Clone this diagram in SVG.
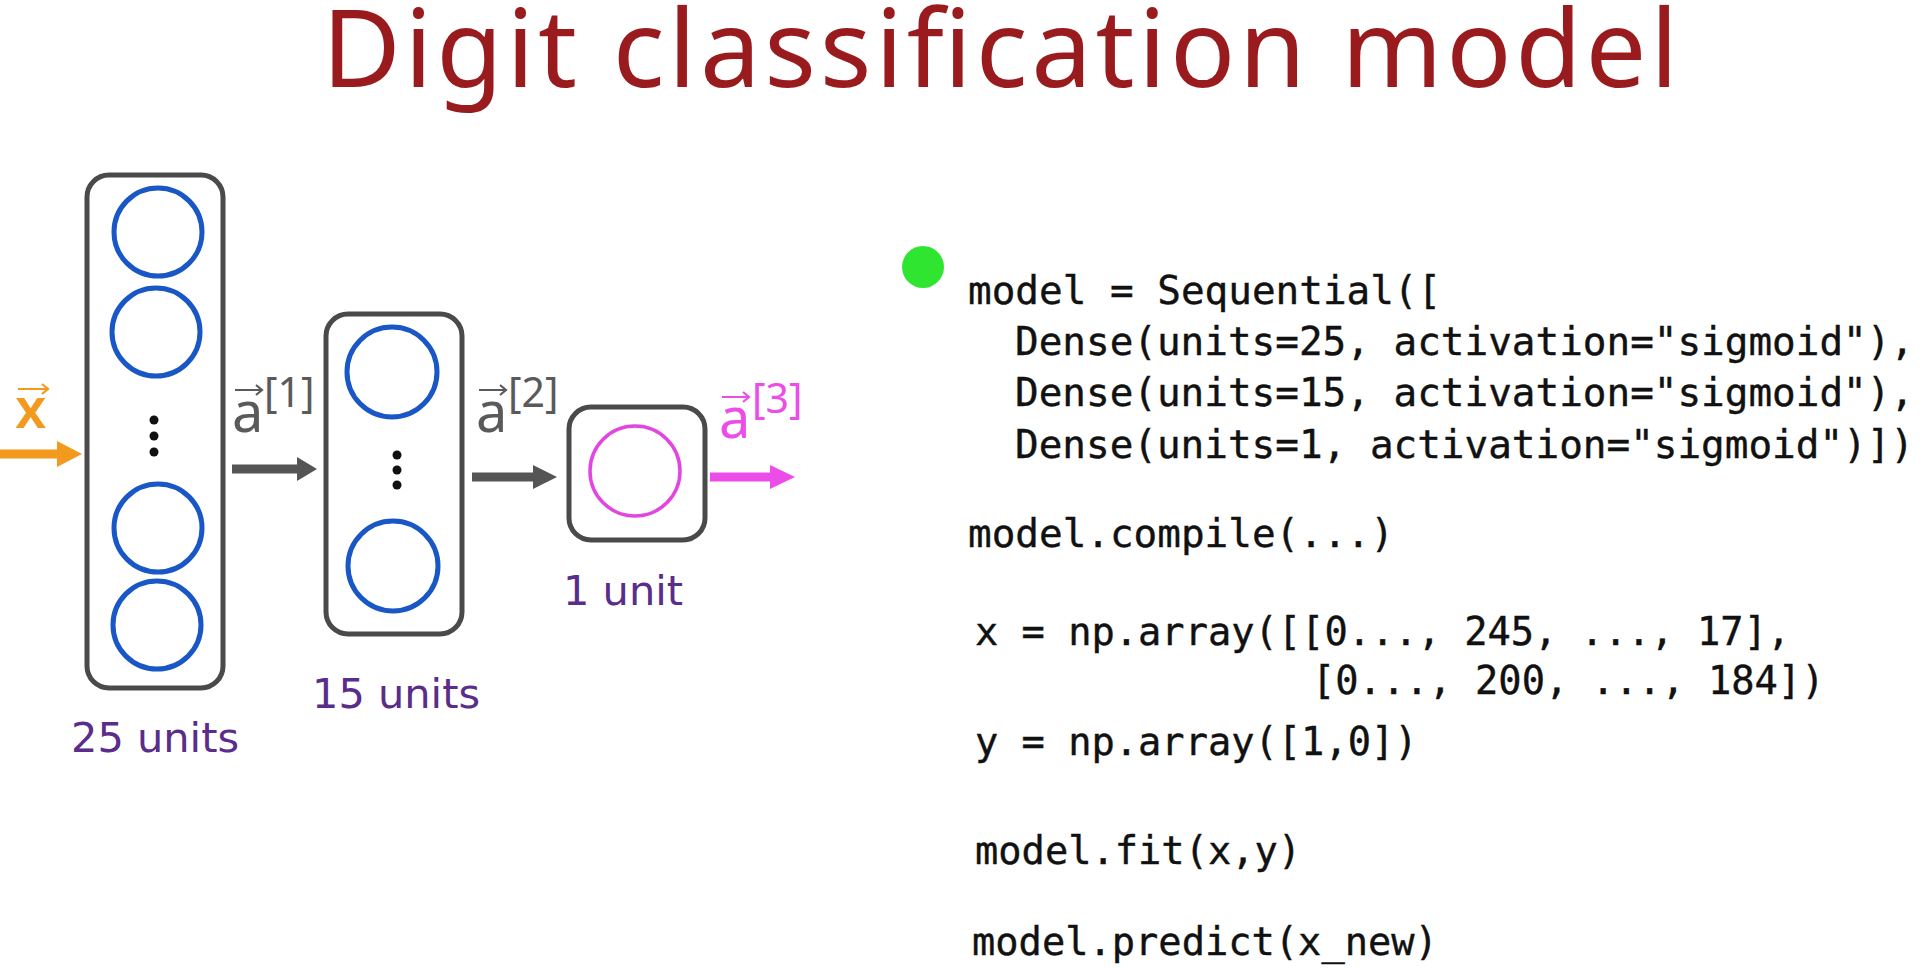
<svg xmlns="http://www.w3.org/2000/svg" width="1920" height="969" viewBox="0 0 1920 969">
<style>
.layer{fill:#ffffff;stroke:#4a4a4a;stroke-width:5}
.unit{fill:none;stroke:#1a57c6;stroke-width:5}
.out{fill:none;stroke:#e346e0;stroke-width:3.5}
.dot{fill:#111111}
.cnt{font-family:"DejaVu Sans",Verdana,sans-serif;font-size:41.5px;fill:#5a2d8a}
.code{font-family:"DejaVu Sans Mono","Liberation Mono",monospace;font-size:38.7px;fill:#111111;stroke:#111111;stroke-width:0.4}
.code.up{font-size:39.3px}
.lbl{font-family:"Noto Sans","Open Sans",sans-serif}
.vec{fill:none;stroke-width:2.2}
</style>
<rect width="1920" height="969" fill="#ffffff"/>
<g id="title">
<text x="322" y="87" font-family="'Noto Sans','Open Sans',sans-serif" font-size="108" fill="#9a1b1e" textLength="1356" lengthAdjust="spacing">Digit classification model</text>
</g>
<g id="connectors">
<path d="M0 449.5 H57 V441 L82 454 L57 467 V458.5 H0 Z" fill="#f39a1e"/>
<path d="M232 464.5 H297 V457 L317 469 L297 481 V473.5 H232 Z" fill="#555555"/>
<path d="M472 472.5 H533 V465 L557 477 L533 489 V481.5 H472 Z" fill="#555555"/>
<path d="M710 472.5 H770 V465 L795 477 L770 489 V481.5 H710 Z" fill="#ec4de8"/>
</g>
<g id="label-x">
<text class="lbl" x="15" y="428" font-size="56" font-weight="600" fill="#f39a1e">x</text>
<path class="vec" stroke="#f39a1e" d="M18 389 H48 M42 384 L48 389 L42 394"/>
</g>
<g id="label-a1">
<text class="lbl" x="232" y="432" font-size="56" fill="#5a5a5a">a</text>
<text class="lbl" x="264" y="407" font-size="41" fill="#5a5a5a">[1]</text>
<path class="vec" stroke="#5a5a5a" d="M235 390 H262 M256 385 L262 390 L256 395"/>
</g>
<g id="label-a2">
<text class="lbl" x="476" y="432" font-size="56" fill="#5a5a5a">a</text>
<text class="lbl" x="508" y="407" font-size="41" fill="#5a5a5a">[2]</text>
<path class="vec" stroke="#5a5a5a" d="M479 390 H506 M500 385 L506 390 L500 395"/>
</g>
<g id="label-a3">
<text class="lbl" x="719" y="438" font-size="56" fill="#ec4de8">a</text>
<text class="lbl" x="752" y="413" font-size="41" fill="#ec4de8">[3]</text>
<path class="vec" stroke="#ec4de8" d="M722 397 H749 M743 392 L749 397 L743 402"/>
</g>
<g id="layer1">
<rect class="layer" x="87" y="175" width="136" height="513" rx="22"/>
<circle class="unit" cx="158" cy="232" r="44"/>
<circle class="unit" cx="156" cy="332" r="44"/>
<circle class="dot" cx="154" cy="420" r="4.5"/>
<circle class="dot" cx="154" cy="436" r="4.5"/>
<circle class="dot" cx="154" cy="452" r="4.5"/>
<circle class="unit" cx="158" cy="528" r="44"/>
<circle class="unit" cx="157" cy="625" r="44"/>
<text class="cnt" x="71" y="752">25 units</text>
</g>
<g id="layer2">
<rect class="layer" x="326" y="314" width="136" height="320" rx="22"/>
<circle class="unit" cx="392" cy="372" r="45"/>
<circle class="dot" cx="397" cy="455" r="4.5"/>
<circle class="dot" cx="397" cy="470" r="4.5"/>
<circle class="dot" cx="397" cy="485" r="4.5"/>
<circle class="unit" cx="393" cy="566" r="45"/>
<text class="cnt" x="312" y="708">15 units</text>
</g>
<g id="layer3">
<rect class="layer" x="569" y="407" width="136" height="133" rx="22"/>
<circle class="out" cx="635" cy="471" r="45"/>
<text class="cnt" x="563" y="605">1 unit</text>
</g>
<g id="pointer">
<circle cx="923" cy="267" r="21" fill="#2fe52f"/>
</g>
<g id="code">
<text class="code up" x="968" y="304">model = Sequential([</text>
<text class="code up" x="1015" y="355">Dense(units=25, activation="sigmoid"),</text>
<text class="code up" x="1015" y="406">Dense(units=15, activation="sigmoid"),</text>
<text class="code up" x="1015" y="458">Dense(units=1, activation="sigmoid")])</text>
<text class="code up" x="968" y="547">model.compile(...)</text>
<text class="code" x="975" y="645">x = np.array([[0..., 245, ..., 17],</text>
<text class="code" x="1312" y="694">[0..., 200, ..., 184])</text>
<text class="code" x="975" y="755">y = np.array([1,0])</text>
<text class="code" x="975" y="864">model.fit(x,y)</text>
<text class="code" x="972" y="955">model.predict(x_new)</text>
</g>
</svg>
